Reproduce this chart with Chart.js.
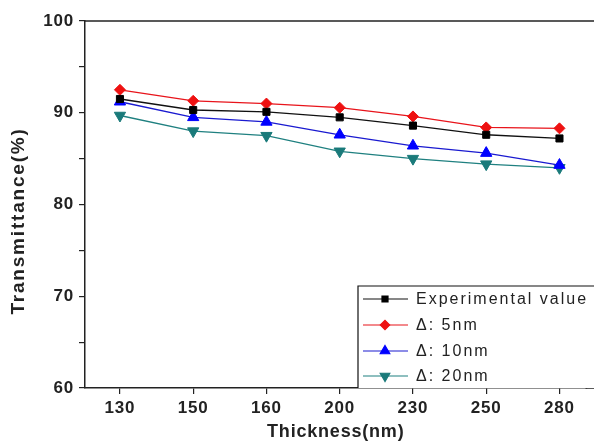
<!DOCTYPE html>
<html><head><meta charset="utf-8">
<script src="https://cdn.jsdelivr.net/npm/chart.js@4/dist/chart.umd.min.js"></script>
<style>html,body{margin:0;padding:0;background:#fff;overflow:hidden}#wrap{width:594px;height:443px}</style>
</head><body><div id="wrap"><canvas id="c" width="594" height="443"></canvas></div>
<script>
const categories = ['130','150','160','200','230','250','280'];
const experimental = [91.5, 90.3, 90.1, 89.5, 88.6, 87.6, 87.2];
const delta5 = [92.5, 91.3, 91.0, 90.55, 89.6, 88.4, 88.3];
const delta10 = [91.2, 89.5, 89.0, 87.6, 86.4, 85.6, 84.3];
const delta20 = [89.7, 88.0, 87.5, 85.8, 85.0, 84.4, 84.0];
const yTicks = [60, 65, 70, 75, 80, 85, 90, 95, 100];
const yLabels = ['60', '', '70', '', '80', '', '90', '', '100'];
const seriesNames = ['Experimental value', 'Δ: 5nm', 'Δ: 10nm', 'Δ: 20nm'];
const yTitle = 'Transmittance(%)';
const xTitle = 'Thickness(nm)';

const toPts = arr => arr.map((v, i) => ({x: i, y: v}));
const FONT = '"Liberation Sans", Arial, sans-serif';

const spacingPlugin = {
  id: 'spacing',
  beforeDraw(chart) { chart.ctx.letterSpacing = '0.8px'; }
};

const legendPlugin = {
  id: 'insideLegend',
  afterDraw(chart) {
    const ctx = chart.ctx, a = chart.chartArea;
    ctx.save();
    ctx.strokeStyle = '#222'; ctx.lineWidth = 1.5;
    ctx.beginPath(); ctx.moveTo(a.left, a.top); ctx.lineTo(chart.width, a.top); ctx.stroke();
    // extend bottom axis line to the canvas edge (frame continues past the crop)
    ctx.beginPath(); ctx.moveTo(a.right - 1, a.bottom); ctx.lineTo(chart.width, a.bottom); ctx.stroke();
    // y axis title
    ctx.save();
    ctx.translate(19, 221); ctx.rotate(-Math.PI / 2);
    ctx.letterSpacing = '1.8px';
    ctx.font = 'bold 19px ' + FONT; ctx.fillStyle = '#222';
    ctx.textAlign = 'center'; ctx.textBaseline = 'middle';
    ctx.fillText(yTitle, 0, 0);
    ctx.restore();
    const bx = 358, by = 286;
    ctx.fillStyle = '#fff';
    ctx.fillRect(bx, by, chart.width - bx, a.bottom - by);
    ctx.strokeStyle = '#111'; ctx.lineWidth = 1.2;
    ctx.beginPath(); ctx.moveTo(bx, a.bottom); ctx.lineTo(bx, by); ctx.lineTo(chart.width + 2, by); ctx.stroke();
    const rows = [299, 325, 351, 376];
    chart.data.datasets.forEach((ds, i) => {
      const y = rows[i];
      ctx.strokeStyle = ds.borderColor; ctx.lineWidth = 1.2;
      ctx.beginPath(); ctx.moveTo(363, y); ctx.lineTo(408, y); ctx.stroke();
      const opts = {pointStyle: ds.pointStyle, radius: ds.pointRadius * 0.85, rotation: ds.rotation || 0, borderWidth: 1};
      ctx.fillStyle = ds.pointBackgroundColor; ctx.strokeStyle = ds.pointBackgroundColor;
      Chart.helpers.drawPoint(ctx, opts, 385, y);
      ctx.fillStyle = '#222';
      ctx.letterSpacing = '2px';
      ctx.font = '16px ' + FONT;
      ctx.textBaseline = 'middle'; ctx.textAlign = 'left';
      ctx.fillText(ds.label, 416, y + 1);
    });
    ctx.restore();
  }
};

new Chart(document.getElementById('c'), {
  type: 'line',
  data: {
    datasets: [
      {label: seriesNames[0], data: toPts(experimental), borderColor: '#111', pointBackgroundColor: '#000', pointBorderColor: '#000', pointStyle: 'rect', pointRadius: 5, rotation: 0},
      {label: seriesNames[1], data: toPts(delta5), borderColor: '#e8141b', pointBackgroundColor: '#ee1111', pointBorderColor: '#ee1111', pointStyle: 'rectRot', pointRadius: 5.5, rotation: 0},
      {label: seriesNames[2], data: toPts(delta10), borderColor: '#1a1ad0', pointBackgroundColor: '#0000ff', pointBorderColor: '#0000ff', pointStyle: 'triangle', pointRadius: 6.5, rotation: 0},
      {label: seriesNames[3], data: toPts(delta20), borderColor: '#1f8080', pointBackgroundColor: '#1a7a7a', pointBorderColor: '#1a7a7a', pointStyle: 'triangle', pointRadius: 6.5, rotation: 180}
    ].map(d => Object.assign(d, {borderWidth: 1.3, tension: 0, fill: false, pointBorderWidth: 1, pointRotation: d.rotation}))
  },
  options: {
    responsive: false, animation: false, devicePixelRatio: 1,
    layout: {padding: {top: 21, right: 0, left: 0, bottom: 0}},
    plugins: {legend: {display: false}, tooltip: {enabled: false}},
    scales: {
      x: {
        type: 'linear', min: -0.477, max: 6.369,
        afterBuildTicks: s => { s.ticks = categories.map((c, i) => ({value: i})); },
        afterFit: s => { s.height = 55; s.paddingRight = 0; s.paddingLeft = 0; },
        ticks: {callback: (v) => categories[v] ?? '', color: '#222', font: {family: FONT, size: 17, weight: 'bold'}, padding: 4, maxRotation: 0, autoSkip: false},
        grid: {display: true, drawOnChartArea: false, drawTicks: true, tickLength: 6, color: '#222', lineWidth: 1.2},
        border: {display: true, color: '#222', width: 1.5},
        title: {display: true, text: xTitle, color: '#222', font: {family: FONT, size: 18, weight: 'bold'}, padding: {top: 0, bottom: 0}}
      },
      y: {
        min: 60, max: 100,
        afterBuildTicks: s => { s.ticks = yTicks.map(v => ({value: v})); },
        afterFit: s => { s.width = 85; s.paddingTop = 0; s.paddingBottom = 0; },
        ticks: {callback: (v) => yLabels[yTicks.indexOf(v)] ?? '', color: '#222', font: {family: FONT, size: 17, weight: 'bold'}, padding: 5},
        grid: {display: true, drawOnChartArea: false, drawTicks: true, tickLength: 6, color: '#222', lineWidth: 1.2},
        border: {display: true, color: '#222', width: 1.5},
        title: {display: false}
      }
    }
  },
  plugins: [spacingPlugin, legendPlugin]
});
</script></body></html>
